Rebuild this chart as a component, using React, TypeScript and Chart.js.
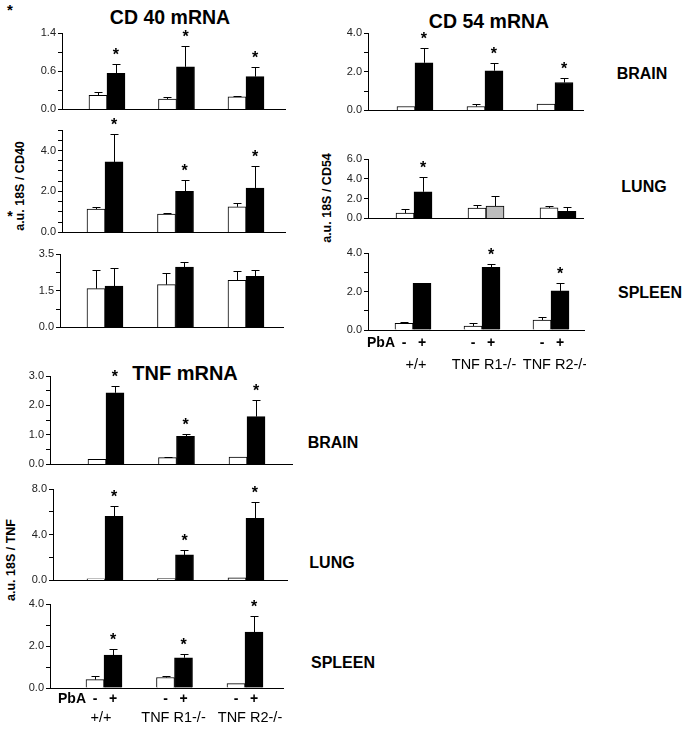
import React, { useEffect, useRef } from 'react';
import { Chart, registerables } from 'chart.js';
Chart.register(...registerables);

const FONT = '"Liberation Sans", Arial, Helvetica, sans-serif';

// ---------- shared labels ----------
const groupLabels = ['+/+', 'TNF R1-/-', 'TNF R2-/-'];
const pbaSigns = ['-', '+'];
const organLabels = ['BRAIN', 'LUNG', 'SPLEEN'];

// ---------- CD40 mRNA ----------
const cd40BrainCtrl = [0.26, 0.19, 0.23];
const cd40BrainCtrlErr = [0.05, 0.03, 0.02];
const cd40BrainPbA = [0.66, 0.78, 0.6];
const cd40BrainPbAErr = [0.18, 0.38, 0.17];
const cd40BrainSig = [true, true, true];
const cd40BrainTicks = [0, 0.35, 0.7, 1.05, 1.4];
const cd40BrainTickLabels = ['0.0', '', '0.6', '', '1.4'];

const cd40LungCtrl = [1.14, 0.9, 1.25];
const cd40LungCtrlErr = [0.11, 0.05, 0.2];
const cd40LungPbA = [3.44, 2.0, 2.17];
const cd40LungPbAErr = [1.36, 0.56, 1.06];
const cd40LungSig = [true, true, true];
const cd40LungTicks = [0, 0.5, 1, 1.5, 2, 2.5, 3, 3.5, 4, 4.5, 5];
const cd40LungTickLabels = ['0.0', '', '', '', '2.0', '', '', '', '4.0', '', ''];

const cd40SpleenCtrl = [1.85, 2.04, 2.24];
const cd40SpleenCtrlErr = [0.89, 0.54, 0.46];
const cd40SpleenPbA = [1.97, 2.88, 2.44];
const cd40SpleenPbAErr = [0.85, 0.23, 0.3];
const cd40SpleenSig = [false, false, false];
const cd40SpleenTicks = [0, 0.875, 1.75, 2.625, 3.5];
const cd40SpleenTickLabels = ['0.0', '', '1.5', '', '3.5'];

// ---------- CD54 mRNA ----------
const cd54BrainCtrl = [0.2, 0.2, 0.33];
const cd54BrainCtrlErr = [0, 0.13, 0];
const cd54BrainPbA = [2.46, 2.05, 1.44];
const cd54BrainPbAErr = [0.74, 0.41, 0.23];
const cd54BrainSig = [true, true, true];
const cd54BrainTicks = [0, 1, 2, 3, 4];
const cd54BrainTickLabels = ['0.0', '', '2.0', '', '4.0'];

const cd54LungCtrl = [0.53, 1.03, 1.06];
const cd54LungCtrlErr = [0.47, 0.28, 0.16];
const cd54LungPbA = [2.69, 1.25, 0.72];
const cd54LungPbAErr = [1.53, 1.0, 0.47];
const cd54LungSig = [true, false, false];
const cd54LungPbAColors = ['#000000', '#bdbdbd', '#000000'];
const cd54LungTicks = [0, 2, 4, 6];
const cd54LungTickLabels = ['0.0', '2.0', '4.0', '6.0'];

const cd54SpleenCtrl = [0.35, 0.21, 0.52];
const cd54SpleenCtrlErr = [0.08, 0.14, 0.14];
const cd54SpleenPbA = [2.43, 3.25, 2.03];
const cd54SpleenPbAErr = [0, 0.19, 0.4];
const cd54SpleenSig = [false, true, true];
const cd54SpleenTicks = [0, 1, 2, 3, 4];
const cd54SpleenTickLabels = ['0.0', '', '2.0', '', '4.0'];

// ---------- TNF mRNA ----------
const tnfBrainCtrl = [0.17, 0.23, 0.25];
const tnfBrainCtrlErr = [0, 0.03, 0];
const tnfBrainPbA = [2.43, 0.95, 1.62];
const tnfBrainPbAErr = [0.24, 0.08, 0.58];
const tnfBrainSig = [true, true, true];
const tnfBrainTicks = [0, 0.5, 1, 1.5, 2, 2.5, 3];
const tnfBrainTickLabels = ['0.0', '', '1.0', '', '2.0', '', '3.0'];

const tnfLungCtrl = [0.14, 0.17, 0.22];
const tnfLungCtrlErr = [0, 0, 0];
const tnfLungPbA = [5.6, 2.23, 5.43];
const tnfLungPbAErr = [0.88, 0.47, 1.41];
const tnfLungSig = [true, true, true];
const tnfLungTicks = [0, 2, 4, 6, 8];
const tnfLungTickLabels = ['0.0', '', '4.0', '', '8.0'];

const tnfSpleenCtrl = [0.4, 0.5, 0.21];
const tnfSpleenCtrlErr = [0.16, 0.05, 0];
const tnfSpleenPbA = [1.57, 1.44, 2.66];
const tnfSpleenPbAErr = [0.27, 0.18, 0.75];
const tnfSpleenSig = [true, true, true];
const tnfSpleenTicks = [0, 1, 2, 3, 4];
const tnfSpleenTickLabels = ['0.0', '', '2.0', '', '4.0'];

type Geo = { left: number; right: number; top: number; bottom: number; xMin: number; xMax: number };
type Footer = { pbaDy: number; groupDy: number; shift: number[] };
type PanelProps = {
  ctrl: number[];
  ctrlErr: number[];
  pba: number[];
  pbaErr: number[];
  sig: boolean[];
  ticks: number[];
  tickLabels: string[];
  pbaColors?: string[];
  geo: Geo;
  footer?: Footer;
};

const YW = 40;
const PT = 24;

function Panel(p: PanelProps) {
  const ref = useRef<HTMLCanvasElement>(null);
  const PB = p.footer ? 48 : 4;
  const width = YW + (p.geo.right - p.geo.left) + 2;
  const height = PT + (p.geo.bottom - p.geo.top) + PB;

  useEffect(() => {
    if (!ref.current) return;
    const errPlugin = {
      id: 'errbars',
      afterDatasetsDraw(chart: any) {
        const ctx = chart.ctx;
        const ys = chart.scales.y;
        chart.data.datasets.forEach((ds: any, di: number) => {
          const meta = chart.getDatasetMeta(di);
          meta.data.forEach((bar: any, i: number) => {
            const v = ds.data[i].y;
            const e = ds.errors[i];
            const top = ys.getPixelForValue(v + e);
            const x = Math.round(bar.x) + 0.5;
            ctx.save();
            ctx.strokeStyle = '#000';
            ctx.lineWidth = 1;
            if (e > 0) {
              const ty = Math.round(top) + 0.5;
              ctx.beginPath();
              ctx.moveTo(x, bar.y);
              ctx.lineTo(x, ty);
              ctx.moveTo(x - 4, ty);
              ctx.lineTo(x + 4, ty);
              ctx.stroke();
            }
            if (ds.sig && ds.sig[i]) {
              ctx.fillStyle = '#000';
              ctx.font = 'bold 16px ' + FONT;
              ctx.textAlign = 'center';
              ctx.textBaseline = 'alphabetic';
              ctx.fillText('*', bar.x, top - 4);
            }
            ctx.restore();
          });
        });
        if (p.footer) {
          const f = p.footer;
          const m0 = chart.getDatasetMeta(0).data;
          const m1 = chart.getDatasetMeta(1).data;
          const base = chart.chartArea.bottom;
          ctx.save();
          ctx.fillStyle = '#000';
          ctx.textBaseline = 'middle';
          ctx.font = 'bold 14px ' + FONT;
          ctx.textAlign = 'right';
          ctx.fillText('PbA', m0[0].x - 9, base + f.pbaDy);
          ctx.textAlign = 'center';
          m0.forEach((b: any, i: number) => {
            ctx.font = 'bold 14px ' + FONT;
            ctx.fillText(pbaSigns[0], b.x, base + f.pbaDy);
            ctx.fillText(pbaSigns[1], m1[i].x, base + f.pbaDy);
            ctx.font = '14.5px ' + FONT;
            ctx.fillText(groupLabels[i], (b.x + m1[i].x) / 2 + f.shift[i], base + f.groupDy);
          });
          ctx.restore();
        }
      },
    };

    const chart = new Chart(ref.current, {
      type: 'bar',
      data: {
        datasets: [
          {
            data: p.ctrl.map((y, i) => ({ x: i, y })),
            backgroundColor: '#ffffff',
            borderColor: '#000000',
            borderWidth: 1,
            errors: p.ctrlErr,
          } as any,
          {
            data: p.pba.map((y, i) => ({ x: i, y })),
            backgroundColor: p.pbaColors || '#000000',
            borderColor: '#000000',
            borderWidth: 1,
            errors: p.pbaErr,
            sig: p.sig,
          } as any,
        ],
      },
      options: {
        animation: false,
        responsive: false,
        devicePixelRatio: 1,
        layout: { padding: { top: PT, bottom: PB, left: 0, right: 2 } },
        plugins: { legend: { display: false }, tooltip: { enabled: false } },
        datasets: { bar: { barThickness: 18, grouped: true } } as any,
        scales: {
          x: {
            type: 'linear',
            min: p.geo.xMin,
            max: p.geo.xMax,
            offset: false,
            grid: { display: false },
            ticks: { display: false },
            border: { display: true, color: '#000', width: 1 },
            afterFit: (s: any) => {
              s.height = 0;
            },
          },
          y: {
            min: 0,
            max: p.ticks[p.ticks.length - 1],
            afterBuildTicks: (s: any) => {
              s.ticks = p.ticks.map((v) => ({ value: v }));
            },
            ticks: {
              autoSkip: false,
              callback: (_v: any, i: number) => p.tickLabels[i],
              font: { family: FONT, size: 11 },
              color: '#222',
              padding: 2,
            },
            grid: { drawOnChartArea: false, drawTicks: true, tickLength: 4, color: '#000' },
            border: { display: true, color: '#000', width: 1 },
            afterFit: (s: any) => {
              s.width = YW;
            },
          },
        } as any,
      },
      plugins: [errPlugin],
    });
    return () => chart.destroy();
  }, []);

  return (
    <canvas
      ref={ref}
      width={width}
      height={height}
      style={{ position: 'absolute', left: p.geo.left - YW, top: p.geo.top - PT }}
    />
  );
}

function Txt(props: { x: number; y: number; size: number; bold?: boolean; rotate?: boolean; children: any }) {
  return (
    <div
      style={{
        position: 'absolute',
        left: props.x,
        top: props.y,
        transform: 'translate(-50%, -50%)' + (props.rotate ? ' rotate(-90deg)' : ''),
        whiteSpace: 'nowrap',
        fontFamily: FONT,
        fontSize: props.size,
        fontWeight: props.bold ? 'bold' : 'normal',
        color: '#000',
        lineHeight: 1,
      }}
    >
      {props.children}
    </div>
  );
}

export default function App() {
  return (
    <div
      style={{
        position: 'absolute',
        left: 0,
        top: 0,
        width: 685,
        height: 729,
        background: '#fff',
        overflow: 'hidden',
      }}
    >
      <Txt x={10} y={9} size={15} bold>*</Txt>
      <Txt x={170} y={18} size={19.5} bold>CD 40 mRNA</Txt>
      <Txt x={489} y={22} size={19.5} bold>CD 54 mRNA</Txt>
      <Txt x={185} y={373} size={20} bold>TNF mRNA</Txt>

      <Txt x={20} y={186} size={12.5} bold rotate>a.u. 18S / CD40</Txt>
      <Txt x={10} y={216} size={14} bold>*</Txt>
      <Txt x={327} y={198} size={12.5} bold rotate>a.u. 18S / CD54</Txt>
      <Txt x={11} y={560} size={12.5} bold rotate>a.u. 18S / TNF</Txt>

      <Txt x={642} y={74} size={16} bold>{organLabels[0]}</Txt>
      <Txt x={644} y={187} size={16} bold>{organLabels[1]}</Txt>
      <Txt x={650} y={293} size={16} bold>{organLabels[2]}</Txt>
      <Txt x={333} y={443} size={16} bold>{organLabels[0]}</Txt>
      <Txt x={332} y={563} size={16} bold>{organLabels[1]}</Txt>
      <Txt x={343} y={663} size={16} bold>{organLabels[2]}</Txt>

      <Panel
        ctrl={cd40BrainCtrl} ctrlErr={cd40BrainCtrlErr} pba={cd40BrainPbA} pbaErr={cd40BrainPbAErr}
        sig={cd40BrainSig} ticks={cd40BrainTicks} tickLabels={cd40BrainTickLabels}
        geo={{ left: 62, right: 285, top: 33, bottom: 114, xMin: -0.647, xMax: 2.561 }}
      />
      <Panel
        ctrl={cd40LungCtrl} ctrlErr={cd40LungCtrlErr} pba={cd40LungPbA} pbaErr={cd40LungPbAErr}
        sig={cd40LungSig} ticks={cd40LungTicks} tickLabels={cd40LungTickLabels}
        geo={{ left: 62, right: 285, top: 130, bottom: 237, xMin: -0.61, xMax: 2.553 }}
      />
      <Panel
        ctrl={cd40SpleenCtrl} ctrlErr={cd40SpleenCtrlErr} pba={cd40SpleenPbA} pbaErr={cd40SpleenPbAErr}
        sig={cd40SpleenSig} ticks={cd40SpleenTicks} tickLabels={cd40SpleenTickLabels}
        geo={{ left: 60, right: 283, top: 254, bottom: 332, xMin: -0.638, xMax: 2.525 }}
      />

      <Panel
        ctrl={cd54BrainCtrl} ctrlErr={cd54BrainCtrlErr} pba={cd54BrainPbA} pbaErr={cd54BrainPbAErr}
        sig={cd54BrainSig} ticks={cd54BrainTicks} tickLabels={cd54BrainTickLabels}
        geo={{ left: 368, right: 583, top: 33, bottom: 115, xMin: -0.671, xMax: 2.4 }}
      />
      <Panel
        ctrl={cd54LungCtrl} ctrlErr={cd54LungCtrlErr} pba={cd54LungPbA} pbaErr={cd54LungPbAErr}
        sig={cd54LungSig} ticks={cd54LungTicks} tickLabels={cd54LungTickLabels} pbaColors={cd54LungPbAColors}
        geo={{ left: 368, right: 583, top: 159, bottom: 223, xMin: -0.639, xMax: 2.347 }}
      />
      <Panel
        ctrl={cd54SpleenCtrl} ctrlErr={cd54SpleenCtrlErr} pba={cd54SpleenPbA} pbaErr={cd54SpleenPbAErr}
        sig={cd54SpleenSig} ticks={cd54SpleenTicks} tickLabels={cd54SpleenTickLabels}
        geo={{ left: 368, right: 584, top: 253, bottom: 330, xMin: -0.652, xMax: 2.478 }}
        footer={{ pbaDy: 13, groupDy: 35, shift: [3, 2, 4] }}
      />

      <Panel
        ctrl={tnfBrainCtrl} ctrlErr={tnfBrainCtrlErr} pba={tnfBrainPbA} pbaErr={tnfBrainPbAErr}
        sig={tnfBrainSig} ticks={tnfBrainTicks} tickLabels={tnfBrainTickLabels}
        geo={{ left: 50, right: 292, top: 376, bottom: 469, xMin: -0.794, xMax: 2.638 }}
      />
      <Panel
        ctrl={tnfLungCtrl} ctrlErr={tnfLungCtrlErr} pba={tnfLungPbA} pbaErr={tnfLungPbAErr}
        sig={tnfLungSig} ticks={tnfLungTicks} tickLabels={tnfLungTickLabels}
        geo={{ left: 53, right: 287, top: 489, bottom: 585, xMin: -0.738, xMax: 2.582 }}
      />
      <Panel
        ctrl={tnfSpleenCtrl} ctrlErr={tnfSpleenCtrlErr} pba={tnfSpleenPbA} pbaErr={tnfSpleenPbAErr}
        sig={tnfSpleenSig} ticks={tnfSpleenTicks} tickLabels={tnfSpleenTickLabels}
        geo={{ left: 50, right: 283, top: 604, bottom: 688, xMin: -0.766, xMax: 2.539 }}
        footer={{ pbaDy: 11, groupDy: 30, shift: [-3, -1, 5] }}
      />
    </div>
  );
}
